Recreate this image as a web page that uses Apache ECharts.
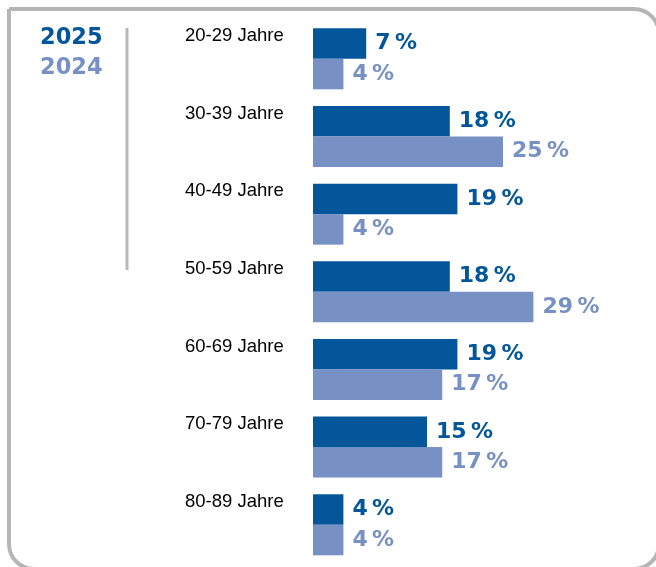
<!DOCTYPE html>
<html>
<head>
<meta charset="utf-8">
<script src="https://cdn.jsdelivr.net/npm/echarts@6/dist/echarts.min.js"></script>
<style>
  html, body { margin: 0; padding: 0; background: #fff; }
  #chart { width: 656px; height: 567px; }
</style>
</head>
<body>
<div id="chart"></div>
<script>
// Altersgruppen und Anteile (%)
const categories = ['20-29 Jahre', '30-39 Jahre', '40-49 Jahre', '50-59 Jahre', '60-69 Jahre', '70-79 Jahre', '80-89 Jahre'];
const values2025 = [7, 18, 19, 18, 19, 15, 4];
const values2024 = [4, 25, 4, 29, 17, 17, 4];
const seriesNames = ['2025', '2024'];

const darkBlue = '#025699';
const lightBlue = '#7891c4';

const chart = echarts.init(document.getElementById('chart'));

const labelStyle = (color) => ({
  show: true,
  position: 'right',
  distance: 9,
  formatter: '{c}\u2009%',
  fontFamily: 'DejaVu Sans',
  fontWeight: 'bold',
  fontSize: 22,
  color: color
});

const option = {
  animation: false,
  backgroundColor: '#fff',
  legend: {
    orient: 'vertical',
    left: 30,
    top: 22,
    icon: 'none',
    itemWidth: 0,
    itemGap: 7,
    selectedMode: false,
    data: [
      { name: seriesNames[0], textStyle: { color: darkBlue } },
      { name: seriesNames[1], textStyle: { color: lightBlue } }
    ],
    textStyle: { fontFamily: 'DejaVu Sans', fontWeight: 'bold', fontSize: 22.5 }
  },
  grid: { left: 313, top: 20, width: 304, height: 543.6, outerBoundsMode: 'none', containLabel: false },
  xAxis: {
    type: 'value',
    min: 0,
    max: 40,
    show: false
  },
  yAxis: {
    type: 'category',
    data: categories,
    inverse: true,
    axisLine: { show: false },
    axisTick: { show: false },
    axisLabel: {
      interval: 0,
      showMinLabel: true,
      showMaxLabel: true,
      hideOverlap: false,
      margin: 128,
      align: 'left',
      verticalAlign: 'middle',
      // Beschriftung oben an der Balkengruppe ausrichten
      formatter: (v) => v + '\n',
      lineHeight: 46,
      fontFamily: 'Liberation Sans',
      fontSize: 18.5,
      color: '#000'
    }
  },
  series: [
    {
      name: seriesNames[0],
      type: 'bar',
      data: values2025,
      barWidth: 30.5,
      barGap: '0%',
      itemStyle: { color: darkBlue },
      label: labelStyle(darkBlue)
    },
    {
      name: seriesNames[1],
      type: 'bar',
      data: values2024,
      barWidth: 30.5,
      barGap: '0%',
      itemStyle: { color: lightBlue },
      label: labelStyle(lightBlue)
    }
  ],
  graphic: [
    {
      type: 'rect',
      shape: { x: 9, y: 9, width: 650, height: 560, r: [0, 25, 25, 25] },
      style: { fill: 'none', stroke: '#b5b5b5', lineWidth: 4 },
      z: -1
    },
    {
      type: 'line',
      shape: { x1: 127, y1: 28, x2: 127, y2: 270 },
      style: { stroke: '#b8b8b8', lineWidth: 3 }
    }
  ]
};

chart.setOption(option);
</script>
</body>
</html>
